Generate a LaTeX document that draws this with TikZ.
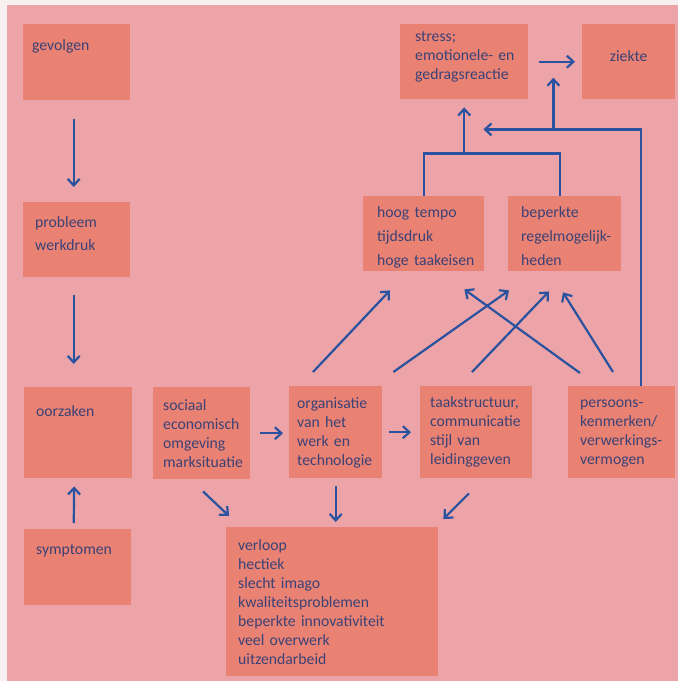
\documentclass[tikz,border=0pt]{standalone}
\usepackage{fontspec}
\setmainfont{Carlito}
\usetikzlibrary{arrows.meta,calc}
\definecolor{rand}{RGB}{246,240,240}
\definecolor{achtergrond}{RGB}{236,164,169}
\definecolor{vakkleur}{RGB}{234,130,116}
\definecolor{tekstkleur}{RGB}{58,66,118}
\definecolor{pijlkleur}{RGB}{42,82,158}
\hyphenpenalty=10000
\exhyphenpenalty=10000
\begin{document}
\begin{tikzpicture}[x=1pt,y=-1pt,
    vak/.style={fill=vakkleur, text=tekstkleur, anchor=north west, inner ysep=0pt, align=left, font=\fontsize{15.7}{19}\selectfont},
    lijn/.style={draw=pijlkleur, line width=2.2pt},
    pijl/.style={lijn, -{Straight Barb[length=6.5pt,width=12pt]}}]
    \useasboundingbox (0,0) rectangle (678,681);

    % 背景
    \fill[rand] (0,0) rectangle (678,681);
    \fill[achtergrond] (7,5) rectangle (678,681);

    % 左列: gevolgen / probleem / oorzaken / symptomen
    \node[vak, text width=89pt, inner xsep=9pt, text height=26pt, text depth=50pt] (gevolgen) at (23,24) {gevolgen};
    \node[vak, text width=83pt, inner xsep=12pt, text height=25pt, text depth=50pt, font=\fontsize{15.7}{23}\selectfont] (probleem) at (23,202) {probleem\\werkdruk};
    \node[vak, text width=84pt, inner xsep=12pt, text height=29pt, text depth=62pt] (oorzaken) at (24,387) {oorzaken};
    \node[vak, text width=83pt, inner xsep=12pt, text height=25pt, text depth=51pt] (symptomen) at (24,529) {symptomen};

    % 中间一行的原因
    \node[vak, text width=77pt, inner xsep=10pt, text height=23pt, text depth=69pt] (sociaal) at (153,387) {sociaal\\economisch\\omgeving\\marksituatie};
    \node[vak, text width=77pt, inner xsep=8pt, text height=22pt, text depth=70pt] (organisatie) at (289,386) {organisatie\\van~het\\werk~en\\technologie};
    \node[vak, text width=92pt, inner xsep=10pt, text height=21pt, text depth=71pt] (taak) at (420,386) {taakstructuur,\\communicatie\\stijl~van\\leidinggeven};
    \node[vak, text width=83pt, inner xsep=12pt, text height=21pt, text depth=71pt] (persoon) at (568,386) {persoons-\\kenmerken/\\verwerkings-\\vermogen};

    % 上面的方块
    \node[vak, text width=93pt, inner xsep=14pt, text height=21pt, text depth=54pt, font=\fontsize{15.7}{24}\selectfont] (hoog) at (363,196) {hoog~tempo\\tijdsdruk\\hoge~taakeisen};
    \node[vak, text width=87pt, inner xsep=13pt, text height=21pt, text depth=54pt, font=\fontsize{15.7}{24}\selectfont] (beperkt) at (508,196) {beperkte\\regelmogelijk-\\heden};
    \node[vak, text width=98pt, inner xsep=15pt, text height=17pt, text depth=58pt] (stress) at (400,24) {stress;\\emotionele-~en\\gedragsreactie};
    \node[vak, text width=93pt, inner xsep=0pt, text height=37pt, text depth=38pt, align=center] (ziekte) at (582,24) {ziekte};

    % 下面的结果
    \node[vak, text width=188pt, inner xsep=12pt, text height=23pt, text depth=126pt] (verloop) at (226,527) {verloop\\hectiek\\slecht~imago\\kwaliteitsproblemen\\beperkte~innovativiteit\\veel~overwerk\\uitzendarbeid};

    % 左列的箭头
    \draw[pijl, shorten <=19pt, shorten >=15pt] ([xshift=-3pt]gevolgen.south) -- ([xshift=-3pt]probleem.north);
    \draw[pijl, shorten <=18pt, shorten >=23pt] ([xshift=-3pt]probleem.south) -- ([xshift=-3pt]probleem.south |- oorzaken.north);
    \draw[pijl, shorten <=6pt, shorten >=8pt] ([xshift=-4pt]symptomen.north) -- ([xshift=-4pt]oorzaken.south);

    % 横向箭头
    \draw[pijl, shorten <=10pt, shorten >=6pt] (sociaal.east) -- (sociaal.east -| organisatie.west);
    \draw[pijl, shorten <=7pt, shorten >=9pt] (organisatie.east) -- (organisatie.east -| taak.west);
    \draw[pijl, shorten <=11pt, shorten >=7pt] (stress.east) -- (stress.east -| ziekte.west);

    % 指向 verloop
    \draw[pijl] ($(sociaal.south west)+(50,12)$) -- ($(verloop.north west)+(3,-11)$);
    \draw[pijl, shorten <=8pt, shorten >=5pt] (organisatie.south) -- (organisatie.south |- verloop.north);
    \draw[pijl] ($(taak.south west)+(49,15)$) -- ($(verloop.north east)+(5,-8)$);

    % 斜向上的箭头
    \draw[pijl] ($(organisatie.north west)+(24,-14)$) -- ($(hoog.south west)+(27,19)$);
    \draw[pijl] ($(organisatie.north east)+(11,-14)$) -- ($(beperkt.south west)+(1,19)$);
    \draw[pijl] ($(taak.north west)+(52,-14)$) -- ($(beperkt.south west)+(41,20)$);
    \draw[pijl] ($(persoon.north west)+(12,-13)$) -- ($(hoog.south east)+(-20,18)$);
    \draw[pijl] ($(persoon.north west)+(45,-14)$) -- ($(beperkt.south west)+(55,21)$);

    % 汇合到 stress
    \coordinate (samen) at ($(stress.south)+(0,54)$);
    \draw[lijn] (hoog.north) |- (samen) -| ([xshift=-5pt]beperkt.north);
    \draw[pijl, shorten >=8pt] (samen) -- (stress.south);

    % persoonskenmerken 的调节作用
    \coordinate (aftak) at ($(stress.south east)+(25,30)$);
    \coordinate (eind) at ($(stress.south east)+(-45,30)$);
    \draw[pijl] ([xshift=19.5pt]persoon.north) |- (eind);
    \draw[pijl, shorten >=16pt] (aftak) -- (aftak |- stress.east);
\end{tikzpicture}
\end{document}
